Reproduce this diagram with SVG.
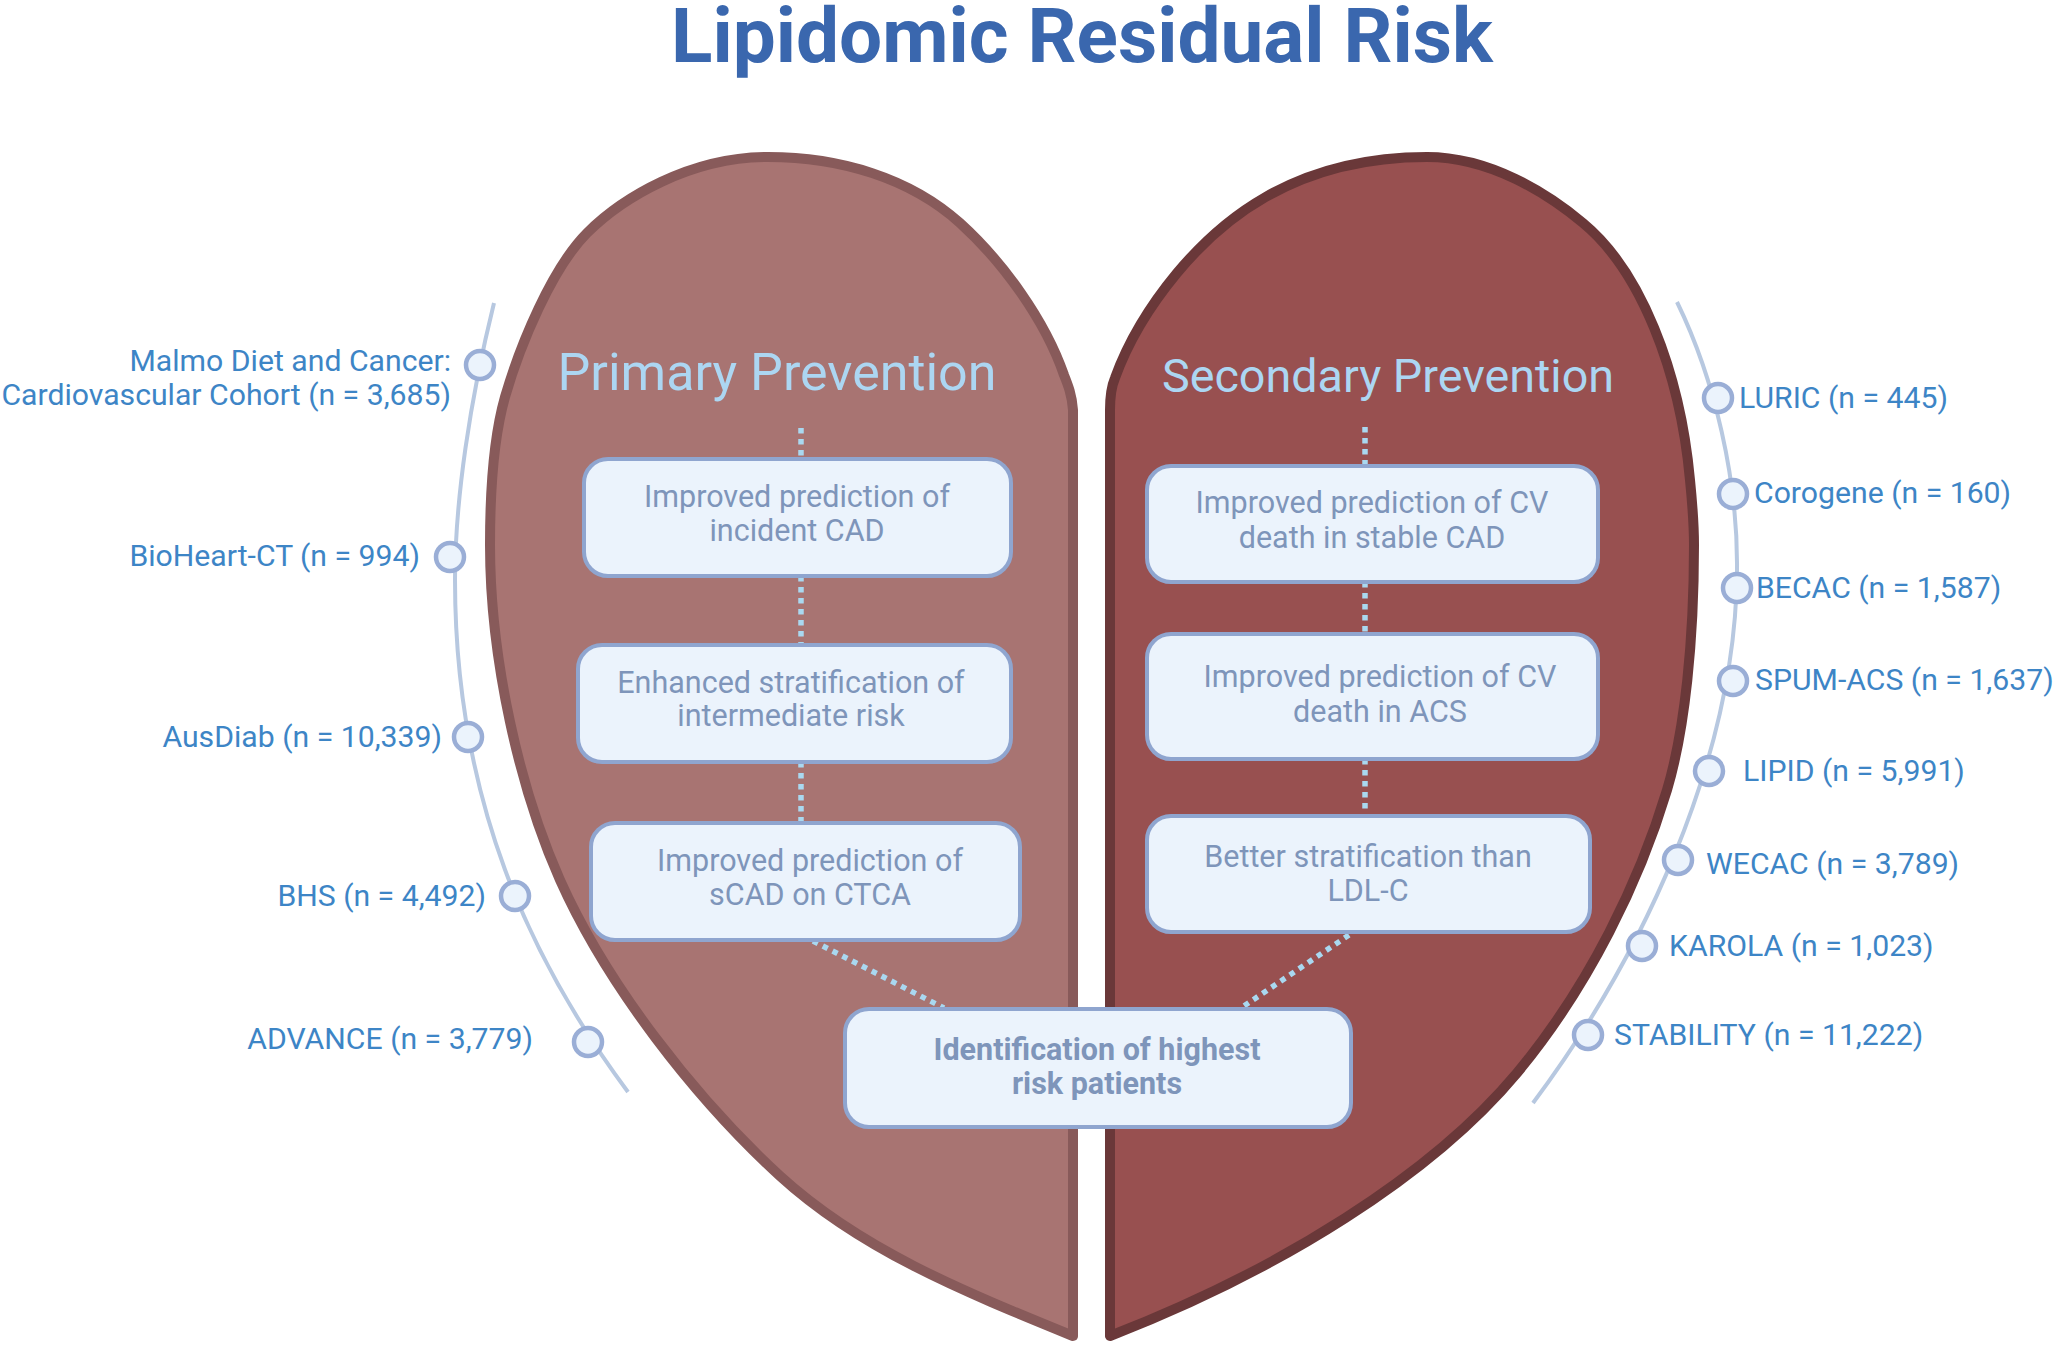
<svg xmlns="http://www.w3.org/2000/svg" width="2056" height="1347" viewBox="0 0 2056 1347">
<style>
text{font-family:Roboto,"Liberation Sans",sans-serif}
.bg{fill:#fff}
.title{font-size:76.5px;font-weight:700;fill:#3a67ae;text-anchor:middle}
.head{fill:#acd6f2;text-anchor:middle}
.box rect{fill:#ebf3fc;stroke:#8fa5cf;stroke-width:4}
.box text{font-size:30.5px;fill:#7e95ba;text-anchor:middle}
.box text.b{font-weight:700}
.lab{font-size:30.2px;fill:#3d85c6}
.e{text-anchor:end}
.dot{fill:#ebf3fc;stroke:#9aaed6;stroke-width:4.5}
.arc{fill:none;stroke:#b7c8e0;stroke-width:4}
.conn{fill:none;stroke:#a9d8f0;stroke-width:5.5;stroke-dasharray:5.5 5.5}
</style>
<rect class="bg" width="2056" height="1347"/>
<text class="title" x="1082" y="62">Lipidomic Residual Risk</text>
<g id="heart-left"><path d="M1073 1336L1073 410C1072 395 1068 385 1064 375C1045 320 1003 262 960 223C910 178 840 157 768 157C690 157 622 198 587 233C552 268 520 345 505 397C493 439 490 495 490 545C490 660 520 790 560 880C607 985 695 1098 780 1176C860 1249 960 1290 1073 1336Z" fill="#a87472" stroke="#885a5a" stroke-width="10" stroke-linejoin="round"/><text class="head" font-size="52" x="777" y="390">Primary Prevention</text></g>
<g id="heart-right"><path d="M1110 1336L1110 410C1110 395 1112 385 1115 378C1128 342 1148 308 1177 273C1217 225 1290 157 1427 157C1490 157 1547 193 1583 223C1640 270 1680 370 1690 480C1693 510 1694 530 1694 545C1694 640 1685 730 1667 790C1640 880 1590 985 1517 1073C1432 1175 1280 1270 1110 1336Z" fill="#985050" stroke="#6a3839" stroke-width="10" stroke-linejoin="round"/><text class="head" font-size="46.7" x="1388" y="392">Secondary Prevention</text></g>
<g id="arcs"><path class="arc" d="M494 303C470 400 455 500 455 580C455 800 530 960 628 1092"/><path class="arc" d="M1677 302C1715 380 1738 480 1737 570C1736 760 1640 960 1533 1103"/></g>
<g id="connectors">
<path class="conn" d="M801 428V458M801 576V645M801 762V823M813 941L944 1008"/>
<path class="conn" d="M1365 427V465M1365 582V634M1365 759V815M1349 935L1241 1008"/>
</g>
<g id="box1" class="box"><rect x="584" y="459" width="427" height="117" rx="24"/><text x="797" y="507">Improved prediction of</text><text x="797" y="541">incident CAD</text></g>
<g id="box2" class="box"><rect x="578" y="645" width="433" height="117" rx="24"/><text x="791" y="693">Enhanced stratification of</text><text x="791" y="726">intermediate risk</text></g>
<g id="box3" class="box"><rect x="591" y="823" width="429" height="117" rx="24"/><text x="810" y="871">Improved prediction of</text><text x="810" y="905">sCAD on CTCA</text></g>
<g id="box4" class="box"><rect x="1147" y="466" width="451" height="116" rx="24"/><text x="1372" y="513">Improved prediction of CV</text><text x="1372" y="548">death in stable CAD</text></g>
<g id="box5" class="box"><rect x="1147" y="634" width="451" height="125" rx="24"/><text x="1380" y="687">Improved prediction of CV</text><text x="1380" y="722">death in ACS</text></g>
<g id="box6" class="box"><rect x="1147" y="816" width="443" height="116" rx="24"/><text x="1368" y="867">Better stratification than</text><text x="1368" y="901">LDL-C</text></g>
<g id="box7" class="box"><rect x="845" y="1009" width="506" height="118" rx="24"/><text class="b" x="1097" y="1060">Identification of highest</text><text class="b" x="1097" y="1094">risk patients</text></g>
<g id="study-malmo"><circle class="dot" cx="480" cy="365" r="14"/><text class="lab e" x="451" y="371">Malmo Diet and Cancer:</text><text class="lab e" x="451" y="405">Cardiovascular Cohort (n = 3,685)</text></g>
<g id="study-bioheart"><circle class="dot" cx="450" cy="557" r="14"/><text class="lab e" x="420" y="566">BioHeart-CT (n = 994)</text></g>
<g id="study-ausdiab"><circle class="dot" cx="468" cy="737" r="14"/><text class="lab e" x="442" y="747">AusDiab (n = 10,339)</text></g>
<g id="study-bhs"><circle class="dot" cx="515" cy="896" r="14"/><text class="lab e" x="486" y="906">BHS (n = 4,492)</text></g>
<g id="study-advance"><circle class="dot" cx="588" cy="1042" r="14"/><text class="lab e" x="533" y="1049">ADVANCE (n = 3,779)</text></g>
<g id="study-luric"><circle class="dot" cx="1718" cy="398" r="14"/><text class="lab" x="1739" y="408">LURIC (n = 445)</text></g>
<g id="study-corogene"><circle class="dot" cx="1733" cy="494" r="14"/><text class="lab" x="1754" y="503">Corogene (n = 160)</text></g>
<g id="study-becac"><circle class="dot" cx="1737" cy="588" r="14"/><text class="lab" x="1756" y="598">BECAC (n = 1,587)</text></g>
<g id="study-spum"><circle class="dot" cx="1733" cy="681" r="14"/><text class="lab" x="1755" y="690">SPUM-ACS (n = 1,637)</text></g>
<g id="study-lipid"><circle class="dot" cx="1709" cy="771" r="14"/><text class="lab" x="1743" y="781">LIPID (n = 5,991)</text></g>
<g id="study-wecac"><circle class="dot" cx="1678" cy="860" r="14"/><text class="lab" x="1706" y="874">WECAC (n = 3,789)</text></g>
<g id="study-karola"><circle class="dot" cx="1642" cy="946" r="14"/><text class="lab" x="1669" y="956">KAROLA (n = 1,023)</text></g>
<g id="study-stability"><circle class="dot" cx="1588" cy="1035" r="14"/><text class="lab" x="1614" y="1045">STABILITY (n = 11,222)</text></g>
</svg>
